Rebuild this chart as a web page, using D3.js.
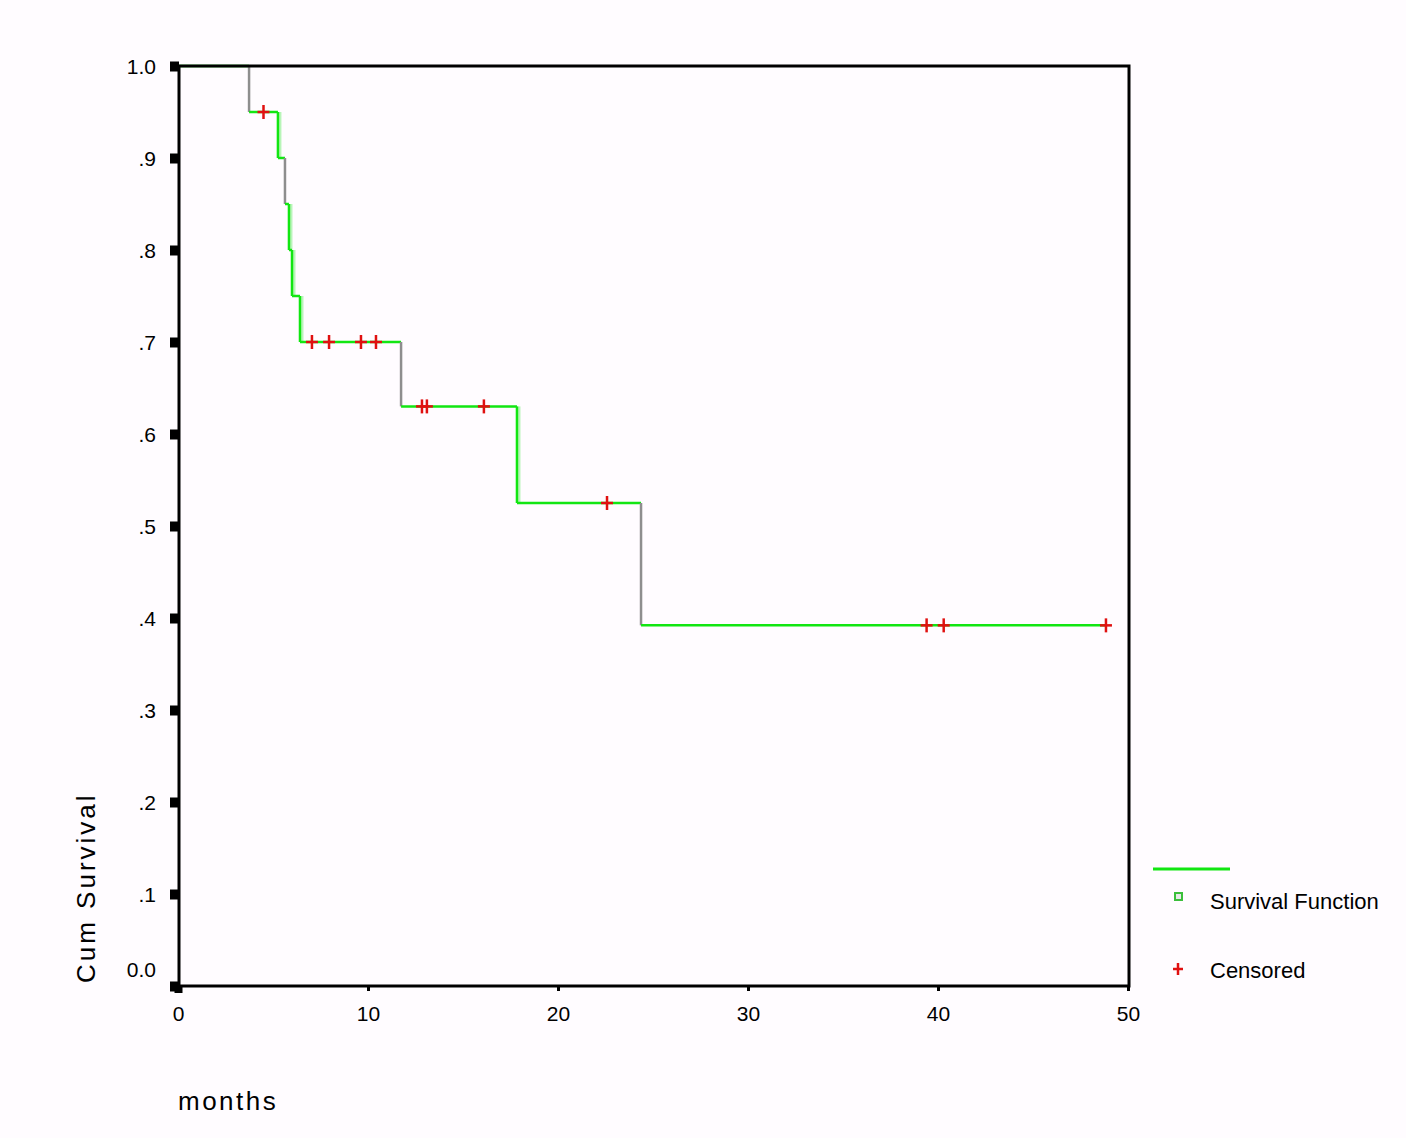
<!DOCTYPE html>
<html>
<head>
<meta charset="utf-8">
<script src="https://cdn.jsdelivr.net/npm/d3@7"></script>
<style>
  body { margin: 0; background: #fffcff; }
  svg { display: block; }
  text { font-family: "Liberation Sans", Arial, sans-serif; fill: #000; }
</style>
</head>
<body>
<script>
// Kaplan-Meier data
const eventTimes = [3.74, 5.26, 5.63, 5.84, 6.0, 6.42, 11.74, 17.84, 24.37];
const survival = [0.95, 0.90, 0.85, 0.80, 0.75, 0.70, 0.63, 0.525, 0.392];
const greyDrops = [0, 2, 6, 8]; // drops drawn in grey in the original
const censoredTimes = [4.5, 7.05, 7.95, 9.63, 10.42, 12.84, 13.1, 16.1, 22.58, 39.4, 40.3, 48.84];
const lastTime = 48.84;

const yTicks = [0, 0.1, 0.2, 0.3, 0.4, 0.5, 0.6, 0.7, 0.8, 0.9, 1.0];
const yTickLabels = ["0.0", ".1", ".2", ".3", ".4", ".5", ".6", ".7", ".8", ".9", "1.0"];
const xTicks = [0, 10, 20, 30, 40, 50];

const W = 1406, H = 1138;
const green = "#12e612", grey = "#8e8e8e", red = "#e01010";

const svg = d3.select("body").append("svg")
    .attr("width", W)
    .attr("height", H);

const x = d3.scaleLinear().domain([0, 50]).range([178, 1128]);
const y = d3.scaleLinear().domain([0, 1]).range([986, 66]);

// step curve: horizontals and verticals
let prevT = 0, prevS = 1;
eventTimes.forEach((t, i) => {
    svg.append("line")
        .attr("x1", x(prevT)).attr("x2", x(t))
        .attr("y1", y(prevS)).attr("y2", y(prevS))
        .attr("stroke", green).attr("stroke-width", 2.5);
    const isGrey = greyDrops.includes(i);
    if (!isGrey) {
        // soft halo on green drops
        svg.append("line")
            .attr("x1", x(t) + 2).attr("x2", x(t) + 2)
            .attr("y1", y(prevS)).attr("y2", y(survival[i]))
            .attr("stroke", "#b8f5b8").attr("stroke-width", 3);
    }
    svg.append("line")
        .attr("x1", x(t)).attr("x2", x(t))
        .attr("y1", y(prevS)).attr("y2", y(survival[i]))
        .attr("stroke", isGrey ? grey : green).attr("stroke-width", 2.5);
    prevT = t;
    prevS = survival[i];
});
svg.append("line")
    .attr("x1", x(prevT)).attr("x2", x(lastTime))
    .attr("y1", y(prevS)).attr("y2", y(prevS))
    .attr("stroke", green).attr("stroke-width", 2.5);

// survival value at a given time
function survAt(t) {
    let s = 1;
    eventTimes.forEach((e, i) => { if (e <= t) s = survival[i]; });
    return s;
}

// censored marks
const cens = svg.selectAll(".cens")
    .data(censoredTimes)
    .enter()
    .append("g")
    .attr("class", "cens")
    .attr("transform", d => `translate(${x(d)},${y(survAt(d))})`);
cens.append("line").attr("x1", -6).attr("x2", 6).attr("y1", 0).attr("y2", 0)
    .attr("stroke", red).attr("stroke-width", 2.5);
cens.append("line").attr("x1", 0).attr("x2", 0).attr("y1", -7).attr("y2", 7)
    .attr("stroke", red).attr("stroke-width", 2.5);

// frame
svg.append("rect")
    .attr("x", x(0) + 1).attr("y", y(1))
    .attr("width", x(50) - x(0)).attr("height", y(0) - y(1))
    .attr("fill", "none").attr("stroke", "#000").attr("stroke-width", 3);

// y axis
const yAxis = svg.append("g")
    .attr("transform", `translate(${x(0) + 2},0)`)
    .call(d3.axisLeft(y).tickValues(yTicks).tickSize(0).tickPadding(24)
        .tickFormat((d, i) => yTickLabels[i]));
yAxis.select(".domain").remove();
yAxis.selectAll("text")
    .attr("font-size", "21px")
    .attr("font-family", "'Liberation Sans', Arial, sans-serif")
    .attr("dy", (d, i) => i === 0 ? "-0.45em" : "0.35em");
yAxis.selectAll(".tick").append("rect")
    .attr("x", -10).attr("y", -5).attr("width", 9).attr("height", 10)
    .attr("fill", "#000");

// x axis
const xAxis = svg.append("g")
    .attr("transform", `translate(0,${y(0) + 1})`)
    .call(d3.axisBottom(x).tickValues(xTicks).tickSize(0).tickPadding(19));
xAxis.select(".domain").remove();
xAxis.selectAll("text")
    .attr("font-size", "21px")
    .attr("font-family", "'Liberation Sans Narrow', 'Liberation Sans', Arial, sans-serif");
xAxis.selectAll(".tick").append("rect")
    .attr("x", (d, i) => i === 0 ? -4 : -1.5).attr("y", 0)
    .attr("width", (d, i) => i === 0 ? 8 : 3).attr("height", (d, i) => i === 0 ? 6 : 4)
    .attr("fill", "#000");

// axis titles
svg.append("text")
    .attr("transform", "translate(95,983) rotate(-90)")
    .attr("font-size", "26px")
    .attr("letter-spacing", "3px")
    .text("Cum Survival");
svg.append("text")
    .attr("x", 178).attr("y", 1110)
    .attr("font-size", "26px")
    .attr("letter-spacing", "2.5px")
    .text("months");

// legend
svg.append("line")
    .attr("x1", 1153).attr("x2", 1230).attr("y1", 869).attr("y2", 869)
    .attr("stroke", green).attr("stroke-width", 3);
svg.append("rect")
    .attr("x", 1175).attr("y", 893).attr("width", 7).attr("height", 7)
    .attr("fill", "#e8e8e8").attr("stroke", "#3bbf3b").attr("stroke-width", 2);
svg.append("text")
    .attr("x", 1210).attr("y", 909)
    .attr("font-size", "22px")
    .text("Survival Function");
const lc = svg.append("g").attr("transform", "translate(1178,969)");
lc.append("line").attr("x1", -5).attr("x2", 5).attr("stroke", red).attr("stroke-width", 2.5);
lc.append("line").attr("y1", -6).attr("y2", 6).attr("stroke", red).attr("stroke-width", 2.5);
svg.append("text")
    .attr("x", 1210).attr("y", 978)
    .attr("font-size", "22px")
    .text("Censored");
</script>
</body>
</html>
